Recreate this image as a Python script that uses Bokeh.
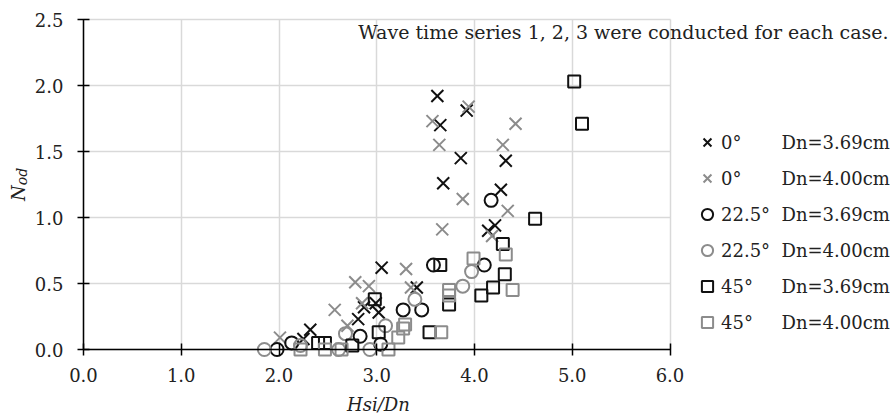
import math
from bokeh.plotting import figure
from bokeh.models import Range1d, FixedTicker, NumeralTickFormatter, Legend, LegendItem, Label
from bokeh.embed import file_html
from bokeh.resources import INLINE

# ---------------- data ----------------
x_ticks = [0, 1, 2, 3, 4, 5, 6]
y_ticks = [0.0, 0.5, 1.0, 1.5, 2.0, 2.5]

# 0 deg, Dn=3.69cm (black x)
a0_369_x = [3.62, 3.92, 3.65, 3.86, 4.32, 3.68, 4.27, 4.21, 4.14, 3.05, 3.41, 2.99, 2.87, 3.02, 2.81, 2.32, 2.25]
a0_369_y = [1.92, 1.81, 1.70, 1.45, 1.43, 1.26, 1.21, 0.94, 0.90, 0.62, 0.47, 0.35, 0.32, 0.28, 0.23, 0.15, 0.08]
# 0 deg, Dn=4.00cm (gray x)
a0_400_x = [3.94, 3.57, 4.42, 3.64, 4.29, 3.88, 4.34, 3.67, 4.18, 3.30, 2.78, 2.92, 3.35, 2.85, 2.57, 2.70, 2.01]
a0_400_y = [1.84, 1.73, 1.71, 1.55, 1.55, 1.14, 1.05, 0.91, 0.86, 0.61, 0.51, 0.48, 0.47, 0.35, 0.30, 0.18, 0.09]
# 22.5 deg, Dn=3.69cm (black circle)
a22_369_x = [4.17, 3.58, 4.10, 3.27, 3.46, 2.83, 3.04, 2.13, 1.98]
a22_369_y = [1.13, 0.64, 0.64, 0.30, 0.30, 0.10, 0.04, 0.05, 0.00]
# 22.5 deg, Dn=4.00cm (gray circle)
a22_400_x = [3.97, 3.88, 3.39, 3.09, 2.68, 2.61, 2.93, 1.85, 2.22]
a22_400_y = [0.59, 0.48, 0.38, 0.18, 0.12, 0.00, 0.00, 0.00, 0.03]
# 45 deg, Dn=3.69cm (black square)
a45_369_x = [5.02, 5.10, 4.62, 4.29, 3.65, 4.31, 4.19, 4.07, 3.74, 2.98, 3.02, 3.54, 2.40, 2.47, 2.75]
a45_369_y = [2.03, 1.71, 0.99, 0.80, 0.64, 0.57, 0.47, 0.41, 0.34, 0.38, 0.13, 0.13, 0.05, 0.05, 0.03]
# 45 deg, Dn=4.00cm (gray square)
a45_400_x = [4.32, 3.99, 4.39, 3.74, 3.74, 3.66, 3.29, 3.27, 3.22, 2.22, 2.47, 2.64, 3.12]
a45_400_y = [0.72, 0.69, 0.45, 0.45, 0.41, 0.13, 0.19, 0.16, 0.09, 0.00, 0.00, 0.00, 0.00]

angle_labels = ["0°", "0°", "22.5°", "22.5°", "45°", "45°"]
dn_labels = ["Dn=3.69cm", "Dn=4.00cm", "Dn=3.69cm", "Dn=4.00cm", "Dn=3.69cm", "Dn=4.00cm"]
note_text = "Wave time series 1, 2, 3 were conducted for each case."

# ---------------- layout / style ----------------
FONT = "DejaVu Serif"
TXT = "#222222"
BLACK = "#111111"
GRAY = "#8c8c8c"
W, H = 891, 418
# pixel positions of the data area inside the canvas
PX_X0, PX_X6 = 83.0, 669.5
PX_Y0, PX_Y25 = 349.0, 19.0
sx = (PX_X6 - PX_X0) / 6.0
sy = (PX_Y0 - PX_Y25) / 2.5

p = figure(width=W, height=H, output_backend="svg", toolbar_location=None,
           x_range=Range1d(-PX_X0 / sx, 6 + (W - PX_X6) / sx),
           y_range=Range1d(-(H - PX_Y0) / sy, 2.5 + PX_Y25 / sy),
           min_border=0, min_border_left=0, min_border_right=0,
           min_border_top=0, min_border_bottom=0)
p.outline_line_color = None
p.background_fill_color = "white"
p.border_fill_color = "white"

# grid
p.grid.grid_line_color = "#d9d9d9"
p.grid.grid_line_width = 1.5
try:
    p.xgrid.cross_bounds = (0, 2.5)
    p.ygrid.cross_bounds = (0, 6)
except Exception:
    pass

# axes (drawn at data zero inside the canvas)
for ax in (p.xaxis[0], p.yaxis[0]):
    ax.axis_line_color = "black"
    ax.axis_line_width = 1.5
    ax.major_tick_line_color = "black"
    ax.major_tick_line_width = 1.5
    ax.major_tick_in = 6
    ax.major_tick_out = 6
    ax.minor_tick_line_color = None
    ax.major_label_text_font = FONT
    ax.major_label_text_font_size = "18px"
    ax.major_label_text_color = TXT
    ax.formatter = NumeralTickFormatter(format="0.0")
    ax.fixed_location = 0
p.xaxis.ticker = FixedTicker(ticks=x_ticks)
p.yaxis.ticker = FixedTicker(ticks=y_ticks)
p.xaxis.bounds = (0, 6)
p.yaxis.bounds = (0, 2.5)
p.xaxis.major_label_standoff = 12
p.yaxis.major_label_standoff = 14

# ---------------- glyphs ----------------
r1 = p.scatter(a0_369_x, a0_369_y, marker="x", size=17, line_color=BLACK, line_width=2)
r2 = p.scatter(a0_400_x, a0_400_y, marker="x", size=17, line_color=GRAY, line_width=2)
r3 = p.scatter(a22_369_x, a22_369_y, marker="circle", size=13, line_color=BLACK, line_width=2, fill_color=None)
r4 = p.scatter(a22_400_x, a22_400_y, marker="circle", size=13, line_color=GRAY, line_width=2, fill_color=None)
r5 = p.scatter(a45_369_x, a45_369_y, marker="square", size=12, line_color=BLACK, line_width=2, fill_color=None)
r6 = p.scatter(a45_400_x, a45_400_y, marker="square", size=12, line_color=GRAY, line_width=2, fill_color=None)
renderers = [r1, r2, r3, r4, r5, r6]

legend = Legend(items=[LegendItem(label=lab, renderers=[r]) for lab, r in zip(angle_labels, renderers)],
                location=(693, 82), orientation="vertical",
                glyph_width=28, glyph_height=28, label_height=28, spacing=8,
                padding=0, margin=0, label_standoff=0,
                border_line_color=None, background_fill_alpha=0,
                label_text_font=FONT, label_text_font_size="18px", label_text_color=TXT)
p.add_layout(legend)

for i, txt in enumerate(dn_labels):
    p.add_layout(Label(x=781, y=276 - 36 * i, x_units="screen", y_units="screen", text=txt,
                       text_font=FONT, text_font_size="18px", text_color=TXT,
                       text_baseline="middle", text_align="left"))

p.add_layout(Label(x=888, y=387, x_units="screen", y_units="screen", text=note_text,
                   text_font=FONT, text_font_size="19px", text_color=TXT,
                   text_baseline="middle", text_align="right"))

# axis titles
p.add_layout(Label(x=18.3, y=225.5, x_units="screen", y_units="screen", text="N",
                   angle=math.pi / 2, text_font=FONT, text_font_style="italic", text_font_size="18px",
                   text_color=TXT, text_align="center", text_baseline="middle"))
p.add_layout(Label(x=21.5, y=242, x_units="screen", y_units="screen", text="od",
                   angle=math.pi / 2, text_font=FONT, text_font_style="italic", text_font_size="14px",
                   text_color=TXT, text_align="center", text_baseline="middle"))
p.add_layout(Label(x=378, y=14, x_units="screen", y_units="screen", text="Hsi/Dn",
                   text_font=FONT, text_font_style="italic", text_font_size="18px",
                   text_color=TXT, text_align="center", text_baseline="middle"))

open("out.html", "w").write(file_html(p, INLINE))
